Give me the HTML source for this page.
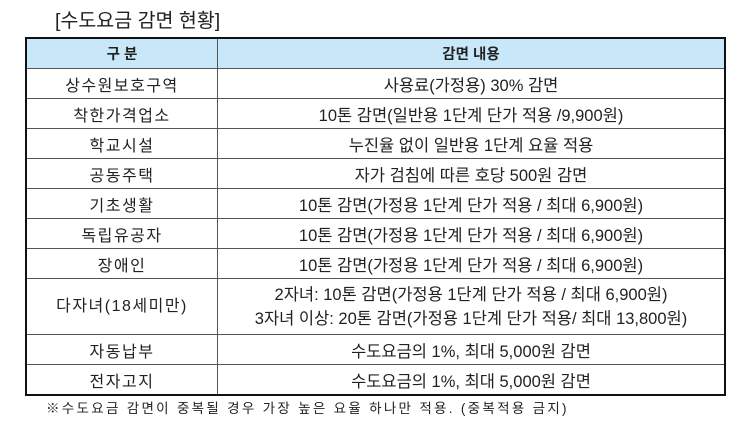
<!DOCTYPE html>
<html><head><meta charset="utf-8"><style>
body{margin:0;width:750px;height:427px;background:#fff;font-family:"Liberation Sans","Noto Sans CJK KR","NanumGothic",sans-serif;color:#222;position:relative;overflow:hidden}
.title{position:absolute;left:55px;top:9px;font-size:19.5px;line-height:24px}
table{position:absolute;left:25px;top:37px;width:701px;border-collapse:collapse;border:2.5px solid #111;font-size:16.5px}
td,th{border:1px solid #555;text-align:center;padding:0;height:29px;white-space:nowrap}
th{background:#c8e8fa;font-weight:bold;font-size:14.5px;height:29px}
td:first-child{width:190px;font-size:16px;letter-spacing:1.5px}
.two{height:55px;line-height:24px}
.note{position:absolute;left:46px;top:400px;font-size:13.5px;line-height:18px;letter-spacing:2.3px;white-space:nowrap}
</style></head><body>
<div class="title">[수도요금 감면 현황]</div>
<table>
<tr><th>구 분</th><th>감면 내용</th></tr>
<tr><td>상수원보호구역</td><td>사용료(가정용) 30% 감면</td></tr>
<tr><td>착한가격업소</td><td>10톤 감면(일반용 1단계 단가 적용 /9,900원)</td></tr>
<tr><td>학교시설</td><td>누진율 없이 일반용 1단계 요율 적용</td></tr>
<tr><td>공동주택</td><td>자가 검침에 따른 호당 500원 감면</td></tr>
<tr><td>기초생활</td><td>10톤 감면(가정용 1단계 단가 적용 / 최대 6,900원)</td></tr>
<tr><td>독립유공자</td><td>10톤 감면(가정용 1단계 단가 적용 / 최대 6,900원)</td></tr>
<tr><td>장애인</td><td>10톤 감면(가정용 1단계 단가 적용 / 최대 6,900원)</td></tr>
<tr><td class="two">다자녀(18세미만)</td><td class="two">2자녀: 10톤 감면(가정용 1단계 단가 적용 / 최대 6,900원)<br>3자녀 이상: 20톤 감면(가정용 1단계 단가 적용/ 최대 13,800원)</td></tr>
<tr><td>자동납부</td><td>수도요금의 1%, 최대 5,000원 감면</td></tr>
<tr><td>전자고지</td><td>수도요금의 1%, 최대 5,000원 감면</td></tr>
</table>
<div class="note">※수도요금 감면이 중복될 경우 가장 높은 요율 하나만 적용. (중복적용 금지)</div>
</body></html>
